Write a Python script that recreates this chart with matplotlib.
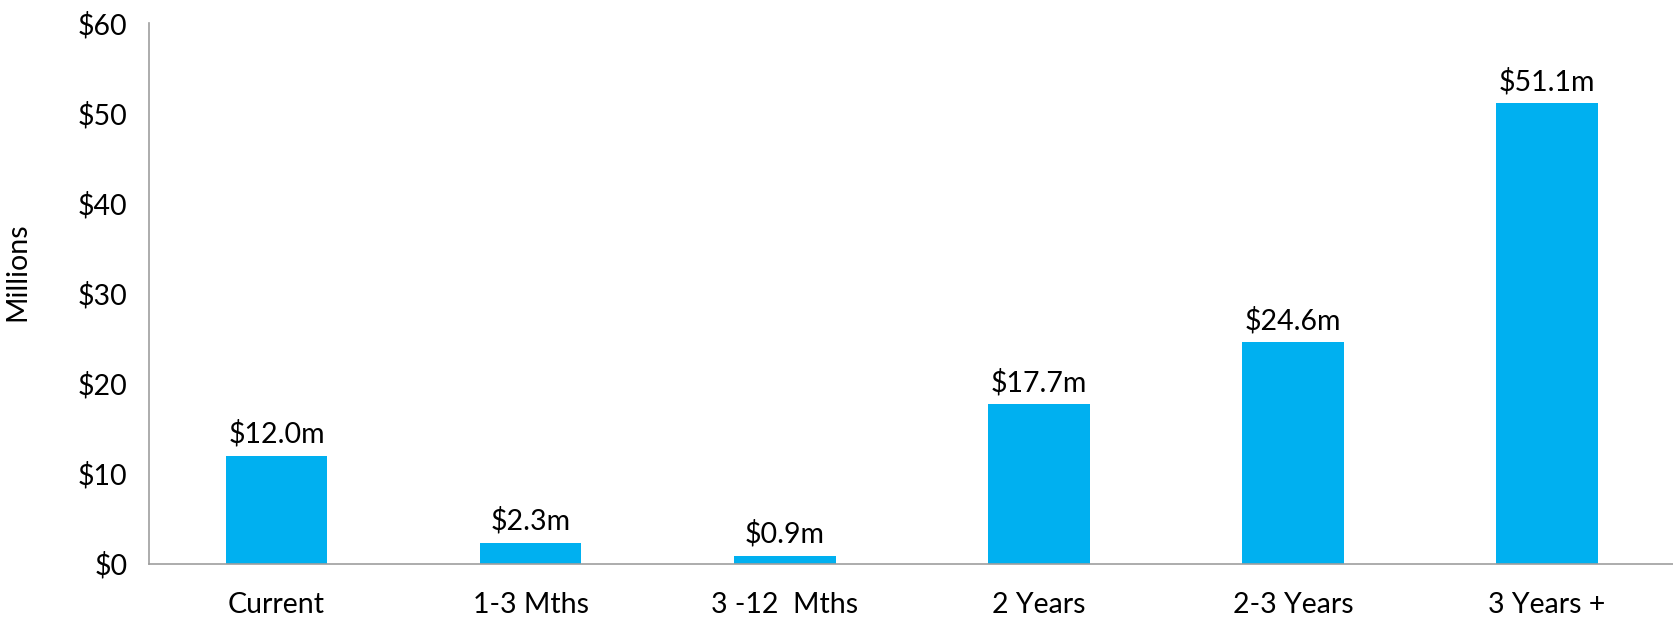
import matplotlib
matplotlib.use("Agg")
import matplotlib.pyplot as plt

categories = ["Current", "1-3 Mths", "3 -12  Mths", "2 Years", "2-3 Years", "3 Years +"]
values = [12.0, 2.3, 0.9, 17.7, 24.6, 51.1]
yticks = [0, 10, 20, 30, 40, 50, 60]
ytick_labels = ["$0", "$10", "$20", "$30", "$40", "$50", "$60"]

plt.rcParams["font.family"] = ["Lato", "DejaVu Sans"]
FS = 20.5

fig = plt.figure(figsize=(16.74, 6.19), dpi=100)
ax = fig.add_axes([0.0893, 0.0893, 0.9107, 0.873])

x = range(len(categories))
bars = ax.bar(x, values, width=0.40, color="#00B0F0")

for xi, v in zip(x, values):
    ax.text(xi, v + 0.9, f"${v:.1f}m", ha="center", va="bottom", fontsize=FS, color="#000000")

ax.set_xlim(-0.5, len(categories) - 0.5)
ax.set_ylim(0, 60)
ax.set_yticks(yticks)
ax.set_yticklabels(ytick_labels, fontsize=FS)
ax.set_xticks(list(x))
ax.set_xticklabels(categories, fontsize=FS)
ax.tick_params(axis="y", length=0, pad=16)
ax.tick_params(axis="x", length=0, pad=20)
ax.set_ylabel("Millions", fontsize=FS)
ax.yaxis.set_label_coords(-0.078, 0.54)

for s in ["top", "right"]:
    ax.spines[s].set_visible(False)
for s in ["left", "bottom"]:
    ax.spines[s].set_color("#9E9E9E")
    ax.spines[s].set_linewidth(1.2)

fig.savefig("out.png", dpi=100, facecolor="white")
